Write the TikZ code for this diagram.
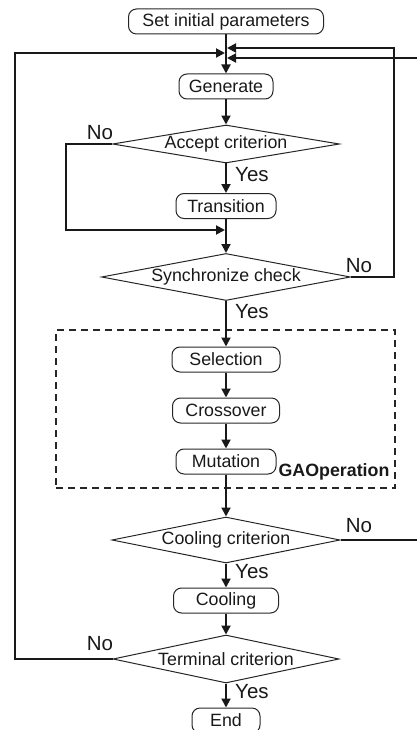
\documentclass[tikz,border=0pt]{standalone}
\usepackage{fontspec}
\setmainfont{Liberation Sans}
\usetikzlibrary{shapes.geometric,arrows.meta}
\begin{document}
\begin{tikzpicture}[x=1pt,y=-1pt,
  every node/.style={inner sep=0pt, font=\fontsize{17.8}{21}\selectfont, text=black!90},
  proc/.style={draw=black!85, line width=1pt, rounded corners=8pt, minimum height=25pt},
  dec/.style={draw=black!85, line width=1pt, diamond, aspect=6},
  lab/.style={font=\fontsize{20.5}{24}\selectfont},
  flow/.style={draw=black!90, line width=1.9pt, -{Triangle[length=9pt,width=9pt]}},
  line/.style={draw=black!90, line width=1.9pt}
]
\useasboundingbox (0,0) rectangle (417,730);
% nodes
\node[proc, minimum width=195pt] (start) at (226,21.5) {Set initial parameters};
\node[proc, minimum width=94pt] (gen) at (226,86.5) {Generate};
\node[dec, minimum width=227pt, minimum height=38pt] (acc) at (226,144) {Accept criterion};
\node[proc, minimum width=100pt] (trans) at (226,206) {Transition};
\node[dec, minimum width=246pt, minimum height=47pt] (sync) at (226,277) {Synchronize check};
\node[proc, minimum width=108pt] (sel) at (226,359.5) {Selection};
\node[proc, minimum width=107pt] (cross) at (226,410.5) {Crossover};
\node[proc, minimum width=100pt] (mut) at (226,461.5) {Mutation};
\node[dec, minimum width=225pt, minimum height=46pt] (cool) at (226,540) {Cooling criterion};
\node[proc, minimum width=105pt] (cooling) at (226,600.5) {Cooling};
\node[dec, minimum width=226pt, minimum height=48pt] (term) at (226,659) {Terminal criterion};
\node[proc, minimum width=68pt] (end) at (226,720.5) {End};
% GA box
\node[draw=black!85, line width=1.4pt, dash pattern=on 7pt off 5pt, minimum width=339pt, minimum height=158pt] (ga) at (225.5,409) {};
\node[font=\fontsize{17.8}{21}\selectfont\bfseries] (galab) at (334,472) {GAOperation};
% coordinates
\coordinate (mL) at (225,53);
\coordinate (mR1) at (227,48);
\coordinate (mR2) at (227,58);
\coordinate (j) at (225,230);
\coordinate (cA) at (66,144);
\coordinate (cS) at (394,277);
\coordinate (cC) at (425,540);
\coordinate (cT) at (15,659);
% main flow
\draw[flow] (start) -- (gen);
\draw[flow] (gen) -- (acc);
\draw[flow] (acc) -- (trans);
\draw[flow] (trans) -- (sync);
\draw[flow] (sync) -- (sel);
\draw[flow] (sel) -- (cross);
\draw[flow] (cross) -- (mut);
\draw[flow] (mut) -- (cool);
\draw[flow] (cool) -- (cooling);
\draw[flow] (cooling) -- (term);
\draw[flow] (term) -- (end);
% loops
\draw[flow] (acc.west) -- (cA) |- (j);
\draw[flow] (sync.east) -- (cS) |- (mR1);
\draw[flow] (cool.east) -- (cC) |- (mR2);
\draw[flow] (term.west) -- (cT) |- (mL);
% labels
\node[lab] (n1) at (100,133) {No};
\node[lab, anchor=west] (y1) at (235,175) {Yes};
\node[lab] (n2) at (359,266) {No};
\node[lab, anchor=west] (y2) at (235,312) {Yes};
\node[lab] (n3) at (359,526) {No};
\node[lab, anchor=west] (y3) at (235,572) {Yes};
\node[lab] (n4) at (100,644) {No};
\node[lab, anchor=west] (y4) at (235,692) {Yes};
\end{tikzpicture}
\end{document}
